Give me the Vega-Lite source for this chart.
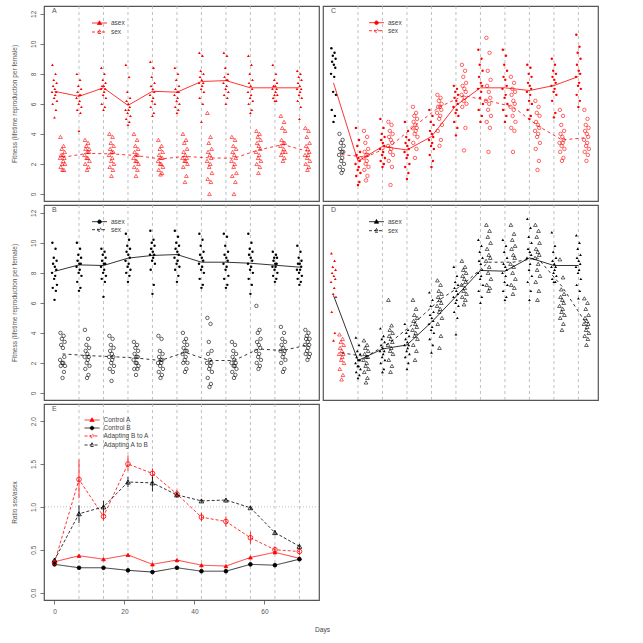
{
"$schema": "https://vega.github.io/schema/vega-lite/v6.json",
"background": "white",
"padding": {"left": 10, "top": 5, "right": 5, "bottom": 5},
"bounds": "flush",
"spacing": 4,
"columns": 2,
"resolve": {"scale": {"shape": "independent", "stroke": "independent", "fill": "independent", "strokeDash": "independent"}, "legend": {"shape": "independent", "stroke": "independent", "fill": "independent", "strokeDash": "independent"}},
"title": {"text": "Days", "orient": "bottom", "anchor": "middle", "frame": "bounds", "offset": 12, "dx": 18, "dy": 0, "fontSize": 6.6, "fontWeight": "normal", "color": "#444"},
"config": {
 "font": "Liberation Sans",
 "view": {"stroke": "#555", "strokeWidth": 1.2},
 "axis": {"grid": false, "domain": false, "tickSize": 4, "tickColor": "#555", "tickWidth": 0.8, "labelFontSize": 6.5, "labelColor": "#555", "labelPadding": 4, "titleFontSize": 6.5, "titleFontWeight": "normal", "titleColor": "#555", "titlePadding": 13, "labelFlush": false, "labelOverlap": false},
 "axisY": {"labelAngle": 270, "labelAlign": "center", "labelBaseline": "bottom"},
 "legend": {"padding": 0, "rowPadding": 1, "labelFontSize": 6.5, "labelColor": "#444", "labelOffset": 8, "symbolStrokeWidth": 0.8, "symbolSize": 36},
 "title": {"anchor": "start", "frame": "group", "offset": 0, "dx": 8, "dy": 12, "fontSize": 7, "fontWeight": "normal", "color": "#555"}
},
"datasets": {
 "days": [{"x":7},{"x":14},{"x":21},{"x":28},{"x":35},{"x":42},{"x":49},{"x":56},{"x":63},{"x":70}],
 "one": [{"y":1}],
 "Aa": [
  {"x":-0.6,"y":8.6},{"x":0.3,"y":8.0},{"x":-0.2,"y":7.6},{"x":0.6,"y":7.4},{"x":-0.4,"y":7.2},{"x":0.1,"y":7.0},{"x":0.5,"y":6.8},{"x":-0.7,"y":6.8},{"x":0.2,"y":6.6},{"x":-0.1,"y":6.4},{"x":0.7,"y":6.2},{"x":-0.5,"y":6.0},{"x":0.4,"y":5.6},{"x":0,"y":5.1},
  {"x":6.4,"y":8.0},{"x":7.3,"y":7.6},{"x":6.8,"y":7.2},{"x":7.6,"y":7.0},{"x":6.6,"y":6.8},{"x":7.1,"y":6.6},{"x":7.5,"y":6.6},{"x":6.3,"y":6.4},{"x":7.2,"y":6.2},{"x":6.9,"y":6.0},{"x":7.7,"y":5.8},{"x":6.5,"y":5.6},{"x":7.4,"y":5.4},{"x":7,"y":4.2},
  {"x":13.4,"y":8.4},{"x":14.3,"y":8.0},{"x":13.8,"y":7.6},{"x":14.6,"y":7.4},{"x":13.6,"y":7.2},{"x":14.1,"y":7.2},{"x":14.5,"y":7.0},{"x":13.3,"y":7.0},{"x":14.2,"y":6.8},{"x":13.9,"y":6.6},{"x":14.7,"y":6.4},{"x":13.5,"y":6.0},{"x":14.4,"y":5.8},{"x":14,"y":5.6},
  {"x":20.4,"y":8.6},{"x":21.3,"y":7.8},{"x":20.8,"y":6.8},{"x":21.6,"y":6.4},{"x":20.6,"y":6.2},{"x":21.1,"y":6.0},{"x":21.5,"y":5.8},{"x":20.3,"y":5.6},{"x":21.2,"y":5.6},{"x":20.9,"y":5.4},{"x":21.7,"y":5.2},{"x":20.5,"y":5.0},{"x":21.4,"y":4.8},{"x":21,"y":4.6},
  {"x":27.4,"y":8.8},{"x":28.3,"y":8.4},{"x":27.8,"y":7.8},{"x":28.6,"y":7.4},{"x":27.6,"y":7.2},{"x":28.1,"y":7.0},{"x":28.5,"y":6.8},{"x":27.3,"y":6.6},{"x":28.2,"y":6.4},{"x":27.9,"y":6.2},{"x":28.7,"y":6.0},{"x":27.5,"y":5.8},{"x":28.4,"y":5.4},{"x":28,"y":5.2},
  {"x":34.4,"y":8.4},{"x":35.3,"y":8.0},{"x":34.8,"y":7.6},{"x":35.6,"y":7.2},{"x":34.6,"y":7.0},{"x":35.1,"y":6.8},{"x":35.5,"y":6.8},{"x":34.3,"y":6.6},{"x":35.2,"y":6.4},{"x":34.9,"y":6.2},{"x":35.7,"y":6.0},{"x":34.5,"y":5.8},{"x":35.4,"y":5.6},{"x":35,"y":5.4},
  {"x":41.4,"y":9.4},{"x":42.3,"y":9.2},{"x":41.8,"y":8.2},{"x":42.6,"y":8.0},{"x":41.6,"y":7.8},{"x":42.1,"y":7.6},{"x":42.5,"y":7.4},{"x":41.3,"y":7.4},{"x":42.2,"y":7.2},{"x":41.9,"y":7.0},{"x":42.7,"y":6.8},{"x":41.5,"y":6.4},{"x":42.4,"y":6.0},{"x":42,"y":4.8},
  {"x":48.4,"y":9.4},{"x":49.3,"y":9.2},{"x":48.8,"y":8.4},{"x":49.6,"y":8.0},{"x":48.6,"y":7.8},{"x":49.1,"y":7.6},{"x":49.5,"y":7.6},{"x":48.3,"y":7.4},{"x":49.2,"y":7.2},{"x":48.9,"y":7.0},{"x":49.7,"y":6.8},{"x":48.5,"y":6.6},{"x":49.4,"y":6.4},{"x":49,"y":6.0},
  {"x":55.4,"y":9.2},{"x":56.3,"y":8.6},{"x":55.8,"y":8.0},{"x":56.6,"y":7.6},{"x":55.6,"y":7.4},{"x":56.1,"y":7.2},{"x":56.5,"y":7.0},{"x":55.3,"y":6.8},{"x":56.2,"y":6.6},{"x":55.9,"y":6.4},{"x":56.7,"y":6.2},{"x":55.5,"y":6.0},{"x":56.4,"y":5.6},{"x":56,"y":5.4},
  {"x":62.4,"y":8.6},{"x":63.3,"y":8.0},{"x":62.8,"y":7.6},{"x":63.6,"y":7.4},{"x":62.6,"y":7.2},{"x":63.1,"y":7.2},{"x":63.5,"y":7.0},{"x":62.3,"y":7.0},{"x":63.2,"y":6.8},{"x":62.9,"y":6.6},{"x":63.7,"y":6.6},{"x":62.5,"y":6.4},{"x":63.4,"y":6.2},{"x":63,"y":6.2},
  {"x":69.4,"y":8.2},{"x":70.3,"y":8.0},{"x":69.8,"y":7.8},{"x":70.6,"y":7.6},{"x":69.6,"y":7.4},{"x":70.1,"y":7.2},{"x":70.5,"y":7.0},{"x":69.3,"y":7.0},{"x":70.2,"y":6.8},{"x":69.9,"y":6.6},{"x":70.7,"y":6.4},{"x":69.5,"y":6.2},{"x":70.4,"y":5.8},{"x":70,"y":5.0}
 ],
 "As": [
  {"x":1.7,"y":3.8},{"x":2.6,"y":3.2},{"x":2.1,"y":3.0},{"x":2.9,"y":2.8},{"x":1.9,"y":2.6},{"x":2.4,"y":2.6},{"x":2.8,"y":2.4},{"x":1.6,"y":2.4},{"x":2.5,"y":2.2},{"x":2.2,"y":2.0},{"x":3.0,"y":2.0},{"x":1.8,"y":1.8},{"x":2.7,"y":1.6},{"x":2.3,"y":1.6},
  {"x":8.7,"y":3.6},{"x":9.6,"y":3.4},{"x":9.1,"y":3.2},{"x":9.9,"y":3.0},{"x":8.9,"y":3.0},{"x":9.4,"y":2.8},{"x":9.8,"y":2.8},{"x":8.6,"y":2.6},{"x":9.5,"y":2.4},{"x":9.2,"y":2.4},{"x":10.0,"y":2.2},{"x":8.8,"y":2.0},{"x":9.7,"y":1.8},{"x":9.3,"y":1.6},
  {"x":15.7,"y":4.0},{"x":16.6,"y":3.8},{"x":16.1,"y":3.4},{"x":16.9,"y":3.2},{"x":15.9,"y":3.0},{"x":16.4,"y":2.8},{"x":16.8,"y":2.8},{"x":15.6,"y":2.6},{"x":16.5,"y":2.4},{"x":16.2,"y":2.2},{"x":17.0,"y":2.0},{"x":15.8,"y":1.8},{"x":16.7,"y":1.6},{"x":16.3,"y":1.2},
  {"x":22.7,"y":4.0},{"x":23.6,"y":3.6},{"x":23.1,"y":3.2},{"x":23.9,"y":3.0},{"x":22.9,"y":2.8},{"x":23.4,"y":2.6},{"x":23.8,"y":2.6},{"x":22.6,"y":2.4},{"x":23.5,"y":2.2},{"x":23.2,"y":2.2},{"x":24.0,"y":2.0},{"x":22.8,"y":1.8},{"x":23.7,"y":1.6},{"x":23.3,"y":1.2},
  {"x":29.7,"y":3.6},{"x":30.6,"y":3.2},{"x":30.1,"y":3.0},{"x":30.9,"y":2.8},{"x":29.9,"y":2.6},{"x":30.4,"y":2.4},{"x":30.8,"y":2.4},{"x":29.6,"y":2.2},{"x":30.5,"y":2.0},{"x":30.2,"y":2.0},{"x":31.0,"y":1.8},{"x":29.8,"y":1.6},{"x":30.7,"y":1.4},{"x":30.3,"y":1.3},
  {"x":36.7,"y":4.0},{"x":37.6,"y":3.6},{"x":37.1,"y":3.4},{"x":37.9,"y":3.0},{"x":36.9,"y":2.8},{"x":37.4,"y":2.6},{"x":37.8,"y":2.4},{"x":36.6,"y":2.4},{"x":37.5,"y":2.2},{"x":37.2,"y":2.2},{"x":38.0,"y":2.0},{"x":36.8,"y":1.8},{"x":37.7,"y":1.2},{"x":37.3,"y":0.8},
  {"x":43.7,"y":5.4},{"x":44.6,"y":3.8},{"x":44.1,"y":3.4},{"x":44.9,"y":3.0},{"x":43.9,"y":2.8},{"x":44.4,"y":2.6},{"x":44.8,"y":2.4},{"x":43.6,"y":2.2},{"x":44.5,"y":2.0},{"x":44.2,"y":1.8},{"x":45.0,"y":1.4},{"x":43.8,"y":1.0},{"x":44.7,"y":0.8},{"x":44.3,"y":0.0},
  {"x":50.7,"y":3.8},{"x":51.6,"y":3.6},{"x":51.1,"y":3.2},{"x":51.9,"y":3.0},{"x":50.9,"y":2.8},{"x":51.4,"y":2.6},{"x":51.8,"y":2.4},{"x":50.6,"y":2.2},{"x":51.5,"y":2.0},{"x":51.2,"y":1.8},{"x":52.0,"y":1.4},{"x":50.8,"y":1.2},{"x":51.7,"y":0.8},{"x":51.3,"y":0.0},
  {"x":57.7,"y":4.2},{"x":58.6,"y":4.0},{"x":58.1,"y":3.8},{"x":58.9,"y":3.6},{"x":57.9,"y":3.4},{"x":58.4,"y":3.2},{"x":58.8,"y":3.0},{"x":57.6,"y":2.8},{"x":58.5,"y":2.6},{"x":58.2,"y":2.4},{"x":59.0,"y":2.2},{"x":57.8,"y":2.0},{"x":58.7,"y":1.8},{"x":58.3,"y":1.4},
  {"x":64.7,"y":5.2},{"x":65.6,"y":4.8},{"x":65.1,"y":4.4},{"x":65.9,"y":4.2},{"x":64.9,"y":3.6},{"x":65.4,"y":3.4},{"x":65.8,"y":3.4},{"x":64.6,"y":3.2},{"x":65.5,"y":3.0},{"x":65.2,"y":2.8},{"x":66.0,"y":2.8},{"x":64.8,"y":2.6},{"x":65.7,"y":2.4},{"x":65.3,"y":2.2},
  {"x":71.7,"y":4.4},{"x":72.6,"y":4.2},{"x":72.1,"y":3.8},{"x":72.9,"y":3.4},{"x":71.9,"y":3.2},{"x":72.4,"y":3.0},{"x":72.8,"y":2.8},{"x":71.6,"y":2.6},{"x":72.5,"y":2.6},{"x":72.2,"y":2.4},{"x":73.0,"y":2.2},{"x":71.8,"y":2.0},{"x":72.7,"y":1.8},{"x":72.3,"y":1.6}
 ],
 "Am": [
  {"g":"asex","x":0,"y":6.84},{"g":"asex","x":7,"y":6.5},{"g":"asex","x":14,"y":7.07},{"g":"asex","x":21,"y":5.9},{"g":"asex","x":28,"y":6.84},{"g":"asex","x":35,"y":6.78},{"g":"asex","x":42,"y":7.49},{"g":"asex","x":49,"y":7.55},{"g":"asex","x":56,"y":7.07},{"g":"asex","x":63,"y":7.07},{"g":"asex","x":70,"y":7.07},
  {"g":"sex","x":2.3,"y":2.44},{"g":"sex","x":9.3,"y":2.7},{"g":"sex","x":16.3,"y":2.67},{"g":"sex","x":23.3,"y":2.56},{"g":"sex","x":30.3,"y":2.33},{"g":"sex","x":37.3,"y":2.5},{"g":"sex","x":44.3,"y":2.4},{"g":"sex","x":51.3,"y":2.38},{"g":"sex","x":58.3,"y":2.93},{"g":"sex","x":65.3,"y":3.29},{"g":"sex","x":72.3,"y":2.84}
 ],
 "Ba": [
  {"x":-0.6,"y":10.0},{"x":0.3,"y":9.6},{"x":-0.2,"y":9.0},{"x":0.6,"y":8.8},{"x":-0.4,"y":8.6},{"x":0.1,"y":8.4},{"x":0.5,"y":8.2},{"x":-0.7,"y":8.0},{"x":0.2,"y":7.8},{"x":-0.1,"y":7.6},{"x":0.7,"y":7.2},{"x":-0.5,"y":7.0},{"x":0.4,"y":6.8},{"x":0,"y":6.2},
  {"x":6.4,"y":10.0},{"x":7.3,"y":9.6},{"x":6.8,"y":9.2},{"x":7.6,"y":9.0},{"x":6.6,"y":8.8},{"x":7.1,"y":8.6},{"x":7.5,"y":8.6},{"x":6.3,"y":8.4},{"x":7.2,"y":8.2},{"x":6.9,"y":8.0},{"x":7.7,"y":7.8},{"x":6.5,"y":7.4},{"x":7.4,"y":7.0},{"x":7,"y":6.8},
  {"x":13.4,"y":9.6},{"x":14.3,"y":9.4},{"x":13.8,"y":9.2},{"x":14.6,"y":9.0},{"x":13.6,"y":8.8},{"x":14.1,"y":8.6},{"x":14.5,"y":8.6},{"x":13.3,"y":8.4},{"x":14.2,"y":8.2},{"x":13.9,"y":8.0},{"x":14.7,"y":7.8},{"x":13.5,"y":7.6},{"x":14.4,"y":7.4},{"x":14,"y":6.4},
  {"x":20.4,"y":10.6},{"x":21.3,"y":10.2},{"x":20.8,"y":9.8},{"x":21.6,"y":9.6},{"x":20.6,"y":9.4},{"x":21.1,"y":9.2},{"x":21.5,"y":9.0},{"x":20.3,"y":8.8},{"x":21.2,"y":8.6},{"x":20.9,"y":8.4},{"x":21.7,"y":8.2},{"x":20.5,"y":8.0},{"x":21.4,"y":7.8},{"x":21,"y":7.4},
  {"x":27.4,"y":10.8},{"x":28.3,"y":10.2},{"x":27.8,"y":10.0},{"x":28.6,"y":9.8},{"x":27.6,"y":9.6},{"x":28.1,"y":9.4},{"x":28.5,"y":9.2},{"x":27.3,"y":9.2},{"x":28.2,"y":9.0},{"x":27.9,"y":8.8},{"x":28.7,"y":8.6},{"x":27.5,"y":8.2},{"x":28.4,"y":7.2},{"x":28,"y":6.6},
  {"x":34.4,"y":10.8},{"x":35.3,"y":10.4},{"x":34.8,"y":10.0},{"x":35.6,"y":9.8},{"x":34.6,"y":9.6},{"x":35.1,"y":9.4},{"x":35.5,"y":9.2},{"x":34.3,"y":9.0},{"x":35.2,"y":8.8},{"x":34.9,"y":8.6},{"x":35.7,"y":8.4},{"x":34.5,"y":8.2},{"x":35.4,"y":7.8},{"x":35,"y":7.4},
  {"x":41.4,"y":10.6},{"x":42.3,"y":10.2},{"x":41.8,"y":9.8},{"x":42.6,"y":9.4},{"x":41.6,"y":9.2},{"x":42.1,"y":9.0},{"x":42.5,"y":8.8},{"x":41.3,"y":8.6},{"x":42.2,"y":8.4},{"x":41.9,"y":8.2},{"x":42.7,"y":8.0},{"x":41.5,"y":7.6},{"x":42.4,"y":7.2},{"x":42,"y":7.0},
  {"x":48.4,"y":10.6},{"x":49.3,"y":10.4},{"x":48.8,"y":9.8},{"x":49.6,"y":9.4},{"x":48.6,"y":9.2},{"x":49.1,"y":9.0},{"x":49.5,"y":8.8},{"x":48.3,"y":8.6},{"x":49.2,"y":8.4},{"x":48.9,"y":8.2},{"x":49.7,"y":7.8},{"x":48.5,"y":7.6},{"x":49.4,"y":7.2},{"x":49,"y":7.0},
  {"x":55.4,"y":10.6},{"x":56.3,"y":10.0},{"x":55.8,"y":9.6},{"x":56.6,"y":9.4},{"x":55.6,"y":9.2},{"x":56.1,"y":9.0},{"x":56.5,"y":8.8},{"x":55.3,"y":8.6},{"x":56.2,"y":8.4},{"x":55.9,"y":8.2},{"x":56.7,"y":8.0},{"x":55.5,"y":7.6},{"x":56.4,"y":7.2},{"x":56,"y":6.6},
  {"x":62.4,"y":9.4},{"x":63.3,"y":9.2},{"x":62.8,"y":9.0},{"x":63.6,"y":9.0},{"x":62.6,"y":8.8},{"x":63.1,"y":8.6},{"x":63.5,"y":8.6},{"x":62.3,"y":8.4},{"x":63.2,"y":8.4},{"x":62.9,"y":8.2},{"x":63.7,"y":8.0},{"x":62.5,"y":7.8},{"x":63.4,"y":7.6},{"x":63,"y":7.4},
  {"x":69.4,"y":9.8},{"x":70.3,"y":9.4},{"x":69.8,"y":9.0},{"x":70.6,"y":8.8},{"x":69.6,"y":8.6},{"x":70.1,"y":8.6},{"x":70.5,"y":8.4},{"x":69.3,"y":8.2},{"x":70.2,"y":8.2},{"x":69.9,"y":8.0},{"x":70.7,"y":7.8},{"x":69.5,"y":7.6},{"x":70.4,"y":7.4},{"x":70,"y":7.2}
 ],
 "Bs": [
  {"x":1.7,"y":4.0},{"x":2.6,"y":3.8},{"x":2.1,"y":3.6},{"x":2.9,"y":3.4},{"x":1.9,"y":3.2},{"x":2.4,"y":3.0},{"x":2.8,"y":2.4},{"x":1.6,"y":2.2},{"x":2.5,"y":2.0},{"x":2.2,"y":2.0},{"x":3.0,"y":1.8},{"x":1.8,"y":1.8},{"x":2.7,"y":1.4},{"x":2.3,"y":1.0},
  {"x":8.7,"y":4.2},{"x":9.6,"y":3.6},{"x":9.1,"y":3.2},{"x":9.9,"y":3.0},{"x":8.9,"y":2.8},{"x":9.4,"y":2.6},{"x":9.8,"y":2.4},{"x":8.6,"y":2.4},{"x":9.5,"y":2.2},{"x":9.2,"y":2.0},{"x":10.0,"y":1.8},{"x":8.8,"y":1.6},{"x":9.7,"y":1.2},{"x":9.3,"y":1.0},
  {"x":15.7,"y":3.8},{"x":16.6,"y":3.6},{"x":16.1,"y":3.2},{"x":16.9,"y":3.0},{"x":15.9,"y":2.8},{"x":16.4,"y":2.6},{"x":16.8,"y":2.4},{"x":15.6,"y":2.4},{"x":16.5,"y":2.2},{"x":16.2,"y":2.0},{"x":17.0,"y":1.8},{"x":15.8,"y":1.6},{"x":16.7,"y":1.4},{"x":16.3,"y":0.8},
  {"x":22.7,"y":3.4},{"x":23.6,"y":3.2},{"x":23.1,"y":3.0},{"x":23.9,"y":2.8},{"x":22.9,"y":2.6},{"x":23.4,"y":2.4},{"x":23.8,"y":2.4},{"x":22.6,"y":2.2},{"x":23.5,"y":2.0},{"x":23.2,"y":2.0},{"x":24.0,"y":1.8},{"x":22.8,"y":1.6},{"x":23.7,"y":1.6},{"x":23.3,"y":1.2},
  {"x":29.7,"y":3.8},{"x":30.6,"y":3.6},{"x":30.1,"y":2.8},{"x":30.9,"y":2.6},{"x":29.9,"y":2.4},{"x":30.4,"y":2.2},{"x":30.8,"y":2.2},{"x":29.6,"y":2.0},{"x":30.5,"y":2.0},{"x":30.2,"y":1.8},{"x":31.0,"y":1.6},{"x":29.8,"y":1.4},{"x":30.7,"y":1.2},{"x":30.3,"y":1.0},
  {"x":36.7,"y":4.0},{"x":37.6,"y":3.6},{"x":37.1,"y":3.4},{"x":37.9,"y":3.2},{"x":36.9,"y":3.0},{"x":37.4,"y":2.8},{"x":37.8,"y":2.8},{"x":36.6,"y":2.6},{"x":37.5,"y":2.4},{"x":37.2,"y":2.2},{"x":38.0,"y":2.0},{"x":36.8,"y":2.0},{"x":37.7,"y":1.6},{"x":37.3,"y":1.4},
  {"x":43.7,"y":5.0},{"x":44.6,"y":4.6},{"x":44.1,"y":3.4},{"x":44.9,"y":2.8},{"x":43.9,"y":2.6},{"x":44.4,"y":2.2},{"x":44.8,"y":2.0},{"x":43.6,"y":2.0},{"x":44.5,"y":1.8},{"x":44.2,"y":1.6},{"x":45.0,"y":1.4},{"x":43.8,"y":1.0},{"x":44.7,"y":0.6},{"x":44.3,"y":0.4},
  {"x":50.7,"y":3.4},{"x":51.6,"y":3.2},{"x":51.1,"y":2.8},{"x":51.9,"y":2.6},{"x":50.9,"y":2.4},{"x":51.4,"y":2.2},{"x":51.8,"y":2.0},{"x":50.6,"y":2.0},{"x":51.5,"y":1.8},{"x":51.2,"y":1.8},{"x":52.0,"y":1.6},{"x":50.8,"y":1.4},{"x":51.7,"y":1.2},{"x":51.3,"y":1.0},
  {"x":57.7,"y":5.8},{"x":58.6,"y":4.2},{"x":58.1,"y":4.0},{"x":58.9,"y":3.6},{"x":57.9,"y":3.4},{"x":58.4,"y":3.2},{"x":58.8,"y":3.0},{"x":57.6,"y":2.8},{"x":58.5,"y":2.6},{"x":58.2,"y":2.4},{"x":59.0,"y":2.2},{"x":57.8,"y":2.0},{"x":58.7,"y":1.8},{"x":58.3,"y":1.6},
  {"x":64.7,"y":4.4},{"x":65.6,"y":4.0},{"x":65.1,"y":3.6},{"x":65.9,"y":3.4},{"x":64.9,"y":3.2},{"x":65.4,"y":3.0},{"x":65.8,"y":2.8},{"x":64.6,"y":2.8},{"x":65.5,"y":2.6},{"x":65.2,"y":2.4},{"x":66.0,"y":2.2},{"x":64.8,"y":2.0},{"x":65.7,"y":1.6},{"x":65.3,"y":1.4},
  {"x":71.7,"y":4.2},{"x":72.6,"y":4.0},{"x":72.1,"y":3.8},{"x":72.9,"y":3.6},{"x":71.9,"y":3.6},{"x":72.4,"y":3.4},{"x":72.8,"y":3.2},{"x":71.6,"y":3.2},{"x":72.5,"y":3.0},{"x":72.2,"y":2.8},{"x":73.0,"y":2.6},{"x":71.8,"y":2.6},{"x":72.7,"y":2.4},{"x":72.3,"y":2.2}
 ],
 "Bm": [
  {"g":"asex","x":0,"y":8.1},{"g":"asex","x":7,"y":8.53},{"g":"asex","x":14,"y":8.49},{"g":"asex","x":21,"y":8.98},{"g":"asex","x":28,"y":9.16},{"g":"asex","x":35,"y":9.22},{"g":"asex","x":42,"y":8.71},{"g":"asex","x":49,"y":8.71},{"g":"asex","x":56,"y":8.64},{"g":"asex","x":63,"y":8.51},{"g":"asex","x":70,"y":8.38},
  {"g":"sex","x":2.3,"y":2.6},{"g":"sex","x":9.3,"y":2.49},{"g":"sex","x":16.3,"y":2.42},{"g":"sex","x":23.3,"y":2.33},{"g":"sex","x":30.3,"y":2.16},{"g":"sex","x":37.3,"y":2.71},{"g":"sex","x":44.3,"y":2.16},{"g":"sex","x":51.3,"y":2.16},{"g":"sex","x":58.3,"y":2.93},{"g":"sex","x":65.3,"y":2.82},{"g":"sex","x":72.3,"y":3.2}
 ],
 "Ca": [
  {"x":-0.6,"y":9.7},{"x":0.3,"y":9.4},{"x":-0.2,"y":9.2},{"x":0.6,"y":9.0},{"x":-0.4,"y":8.8},{"x":0.1,"y":8.6},{"x":0.5,"y":8.4},{"x":-0.7,"y":8.0},{"x":0.2,"y":7.8},{"x":-0.1,"y":6.8},{"x":0.7,"y":6.6},{"x":-0.5,"y":5.6},{"x":0.4,"y":5.2},{"x":0,"y":4.8},
  {"x":6.4,"y":4.4},{"x":7.3,"y":3.6},{"x":6.8,"y":3.2},{"x":7.6,"y":2.8},{"x":6.6,"y":2.6},{"x":7.1,"y":2.4},{"x":7.5,"y":2.2},{"x":6.3,"y":2.0},{"x":7.2,"y":1.8},{"x":6.9,"y":1.6},{"x":7.7,"y":1.4},{"x":6.5,"y":1.2},{"x":7.4,"y":0.8},{"x":7,"y":0.6},
  {"x":13.4,"y":5.0},{"x":14.3,"y":4.4},{"x":13.8,"y":4.0},{"x":14.6,"y":3.8},{"x":13.6,"y":3.6},{"x":14.1,"y":3.4},{"x":14.5,"y":3.2},{"x":13.3,"y":3.0},{"x":14.2,"y":2.8},{"x":13.9,"y":2.6},{"x":14.7,"y":2.4},{"x":13.5,"y":2.2},{"x":14.4,"y":2.0},{"x":14,"y":1.8},
  {"x":20.4,"y":4.8},{"x":21.3,"y":4.2},{"x":20.8,"y":3.8},{"x":21.6,"y":3.6},{"x":20.6,"y":3.4},{"x":21.1,"y":3.2},{"x":21.5,"y":3.0},{"x":20.3,"y":2.8},{"x":21.2,"y":2.6},{"x":20.9,"y":2.4},{"x":21.7,"y":2.0},{"x":20.5,"y":1.8},{"x":21.4,"y":1.4},{"x":21,"y":1.0},
  {"x":27.4,"y":5.6},{"x":28.3,"y":5.2},{"x":27.8,"y":4.8},{"x":28.6,"y":4.6},{"x":27.6,"y":4.2},{"x":28.1,"y":4.0},{"x":28.5,"y":3.8},{"x":27.3,"y":3.6},{"x":28.2,"y":3.4},{"x":27.9,"y":3.2},{"x":28.7,"y":3.0},{"x":27.5,"y":2.6},{"x":28.4,"y":2.2},{"x":28,"y":1.8},
  {"x":34.4,"y":7.2},{"x":35.3,"y":7.0},{"x":34.8,"y":6.8},{"x":35.6,"y":6.6},{"x":34.6,"y":6.4},{"x":35.1,"y":6.2},{"x":35.5,"y":6.0},{"x":34.3,"y":5.8},{"x":35.2,"y":5.6},{"x":34.9,"y":5.4},{"x":35.7,"y":5.2},{"x":34.5,"y":4.8},{"x":35.4,"y":4.4},{"x":35,"y":3.9},
  {"x":41.4,"y":9.6},{"x":42.3,"y":9.0},{"x":41.8,"y":8.6},{"x":42.6,"y":8.2},{"x":41.6,"y":7.8},{"x":42.1,"y":7.4},{"x":42.5,"y":7.2},{"x":41.3,"y":7.0},{"x":42.2,"y":6.8},{"x":41.9,"y":6.4},{"x":42.7,"y":6.0},{"x":41.5,"y":5.6},{"x":42.4,"y":5.2},{"x":42,"y":4.8},
  {"x":48.4,"y":9.6},{"x":49.3,"y":9.2},{"x":48.8,"y":8.6},{"x":49.6,"y":8.2},{"x":48.6,"y":7.8},{"x":49.1,"y":7.6},{"x":49.5,"y":7.2},{"x":48.3,"y":7.0},{"x":49.2,"y":6.6},{"x":48.9,"y":6.4},{"x":49.7,"y":6.0},{"x":48.5,"y":5.6},{"x":49.4,"y":5.2},{"x":49,"y":4.8},
  {"x":55.4,"y":8.6},{"x":56.3,"y":8.4},{"x":55.8,"y":8.0},{"x":56.6,"y":7.8},{"x":55.6,"y":7.4},{"x":56.1,"y":7.2},{"x":56.5,"y":7.0},{"x":55.3,"y":6.8},{"x":56.2,"y":6.6},{"x":55.9,"y":6.2},{"x":56.7,"y":6.0},{"x":55.5,"y":5.6},{"x":56.4,"y":5.2},{"x":56,"y":5.0},
  {"x":62.4,"y":9.0},{"x":63.3,"y":8.6},{"x":62.8,"y":8.2},{"x":63.6,"y":8.0},{"x":62.6,"y":7.8},{"x":63.1,"y":7.6},{"x":63.5,"y":7.4},{"x":62.3,"y":7.2},{"x":63.2,"y":7.0},{"x":62.9,"y":6.8},{"x":63.7,"y":6.6},{"x":62.5,"y":6.2},{"x":63.4,"y":5.4},{"x":63,"y":5.1},
  {"x":69.4,"y":10.6},{"x":70.3,"y":9.8},{"x":69.8,"y":9.4},{"x":70.6,"y":9.0},{"x":69.6,"y":8.6},{"x":70.1,"y":8.2},{"x":70.5,"y":8.0},{"x":69.3,"y":7.8},{"x":70.2,"y":7.4},{"x":69.9,"y":7.2},{"x":70.7,"y":7.0},{"x":69.5,"y":6.6},{"x":70.4,"y":6.2},{"x":70,"y":5.8}
 ],
 "Cs": [
  {"x":1.7,"y":4.0},{"x":2.6,"y":3.6},{"x":2.1,"y":3.4},{"x":2.9,"y":3.2},{"x":1.9,"y":3.0},{"x":2.4,"y":2.8},{"x":2.8,"y":2.8},{"x":1.6,"y":2.6},{"x":2.5,"y":2.4},{"x":2.2,"y":2.2},{"x":3.0,"y":2.0},{"x":1.8,"y":1.8},{"x":2.7,"y":1.6},{"x":2.3,"y":1.4},
  {"x":8.7,"y":4.2},{"x":9.6,"y":3.8},{"x":9.1,"y":3.4},{"x":9.9,"y":3.0},{"x":8.9,"y":2.8},{"x":9.4,"y":2.6},{"x":9.8,"y":2.6},{"x":8.6,"y":2.4},{"x":9.5,"y":2.2},{"x":9.2,"y":2.0},{"x":10.0,"y":1.8},{"x":8.8,"y":1.6},{"x":9.7,"y":1.2},{"x":9.3,"y":0.9},
  {"x":15.7,"y":4.8},{"x":16.6,"y":4.6},{"x":16.1,"y":4.2},{"x":16.9,"y":4.0},{"x":15.9,"y":3.8},{"x":16.4,"y":3.6},{"x":16.8,"y":3.4},{"x":15.6,"y":3.2},{"x":16.5,"y":3.0},{"x":16.2,"y":2.8},{"x":17.0,"y":2.6},{"x":15.8,"y":2.2},{"x":16.7,"y":1.8},{"x":16.3,"y":0.6},
  {"x":22.7,"y":5.8},{"x":23.6,"y":5.4},{"x":23.1,"y":5.2},{"x":23.9,"y":5.0},{"x":22.9,"y":4.8},{"x":23.4,"y":4.6},{"x":23.8,"y":4.4},{"x":22.6,"y":4.4},{"x":23.5,"y":4.2},{"x":23.2,"y":4.0},{"x":24.0,"y":3.8},{"x":22.8,"y":3.4},{"x":23.7,"y":3.0},{"x":23.3,"y":2.4},
  {"x":29.7,"y":6.6},{"x":30.6,"y":6.4},{"x":30.1,"y":6.2},{"x":30.9,"y":6.0},{"x":29.9,"y":5.8},{"x":30.4,"y":5.8},{"x":30.8,"y":5.6},{"x":29.6,"y":5.4},{"x":30.5,"y":5.2},{"x":30.2,"y":5.0},{"x":31.0,"y":4.6},{"x":29.8,"y":4.2},{"x":30.7,"y":3.6},{"x":30.3,"y":3.2},
  {"x":36.7,"y":8.6},{"x":37.6,"y":8.2},{"x":37.1,"y":7.8},{"x":37.9,"y":7.4},{"x":36.9,"y":7.2},{"x":37.4,"y":7.0},{"x":37.8,"y":6.8},{"x":36.6,"y":6.6},{"x":37.5,"y":6.4},{"x":37.2,"y":6.2},{"x":38.0,"y":6.0},{"x":36.8,"y":5.8},{"x":37.7,"y":4.4},{"x":37.3,"y":2.9},
  {"x":43.7,"y":10.4},{"x":44.6,"y":9.4},{"x":44.1,"y":8.2},{"x":44.9,"y":7.6},{"x":43.9,"y":7.2},{"x":44.4,"y":6.8},{"x":44.8,"y":6.4},{"x":43.6,"y":6.2},{"x":44.5,"y":6.0},{"x":44.2,"y":5.6},{"x":45.0,"y":5.2},{"x":43.8,"y":4.8},{"x":44.7,"y":4.4},{"x":44.3,"y":2.8},
  {"x":50.7,"y":7.8},{"x":51.6,"y":7.4},{"x":51.1,"y":7.0},{"x":51.9,"y":6.8},{"x":50.9,"y":6.6},{"x":51.4,"y":6.2},{"x":51.8,"y":6.0},{"x":50.6,"y":5.8},{"x":51.5,"y":5.6},{"x":51.2,"y":5.2},{"x":52.0,"y":4.8},{"x":50.8,"y":4.4},{"x":51.7,"y":4.2},{"x":51.3,"y":2.8},
  {"x":57.7,"y":6.2},{"x":58.6,"y":5.8},{"x":58.1,"y":5.4},{"x":58.9,"y":5.2},{"x":57.9,"y":4.8},{"x":58.4,"y":4.6},{"x":58.8,"y":4.4},{"x":57.6,"y":4.2},{"x":58.5,"y":4.0},{"x":58.2,"y":3.8},{"x":59.0,"y":3.4},{"x":57.8,"y":3.0},{"x":58.7,"y":2.2},{"x":58.3,"y":1.6},
  {"x":64.7,"y":5.6},{"x":65.6,"y":5.2},{"x":65.1,"y":4.6},{"x":65.9,"y":4.2},{"x":64.9,"y":4.0},{"x":65.4,"y":3.8},{"x":65.8,"y":3.6},{"x":64.6,"y":3.4},{"x":65.5,"y":3.4},{"x":65.2,"y":3.2},{"x":66.0,"y":3.0},{"x":64.8,"y":2.8},{"x":65.7,"y":2.4},{"x":65.3,"y":2.2},
  {"x":71.7,"y":5.6},{"x":72.6,"y":5.0},{"x":72.1,"y":4.6},{"x":72.9,"y":4.4},{"x":71.9,"y":4.2},{"x":72.4,"y":4.0},{"x":72.8,"y":3.8},{"x":71.6,"y":3.6},{"x":72.5,"y":3.4},{"x":72.2,"y":3.2},{"x":73.0,"y":3.0},{"x":71.8,"y":2.8},{"x":72.7,"y":2.6},{"x":72.3,"y":2.2}
 ],
 "Cm": [
  {"g":"asex","x":0,"y":7.4},{"g":"asex","x":7,"y":2.18},{"g":"asex","x":14,"y":3.16},{"g":"asex","x":21,"y":2.93},{"g":"asex","x":28,"y":3.82},{"g":"asex","x":35,"y":5.89},{"g":"asex","x":42,"y":7.07},{"g":"asex","x":49,"y":7.07},{"g":"asex","x":56,"y":6.89},{"g":"asex","x":63,"y":7.22},{"g":"asex","x":70,"y":7.82},
  {"g":"sex","x":2.3,"y":2.62},{"g":"sex","x":9.3,"y":2.45},{"g":"sex","x":16.3,"y":3.2},{"g":"sex","x":23.3,"y":4.55},{"g":"sex","x":30.3,"y":5.8},{"g":"sex","x":37.3,"y":6.55},{"g":"sex","x":44.3,"y":6.2},{"g":"sex","x":51.3,"y":5.8},{"g":"sex","x":58.3,"y":4.55},{"g":"sex","x":65.3,"y":3.6},{"g":"sex","x":72.3,"y":3.75}
 ],
 "Da": [
  {"x":-0.6,"y":9.3},{"x":0.3,"y":8.8},{"x":-0.2,"y":8.4},{"x":0.6,"y":8.2},{"x":-0.4,"y":8.0},{"x":0.1,"y":7.8},{"x":0.5,"y":7.6},{"x":-0.7,"y":7.4},{"x":0.2,"y":7.0},{"x":-0.1,"y":6.6},{"x":0.7,"y":6.4},{"x":-0.5,"y":5.4},{"x":0.4,"y":4.0},{"x":0,"y":3.5},
  {"x":6.4,"y":3.7},{"x":7.3,"y":3.2},{"x":6.8,"y":2.8},{"x":7.6,"y":2.6},{"x":6.6,"y":2.4},{"x":7.1,"y":2.2},{"x":7.5,"y":2.2},{"x":6.3,"y":2.0},{"x":7.2,"y":1.8},{"x":6.9,"y":1.8},{"x":7.7,"y":1.6},{"x":6.5,"y":1.4},{"x":7.4,"y":1.2},{"x":7,"y":1.0},
  {"x":13.4,"y":4.3},{"x":14.3,"y":3.8},{"x":13.8,"y":3.6},{"x":14.6,"y":3.4},{"x":13.6,"y":3.2},{"x":14.1,"y":3.0},{"x":14.5,"y":2.8},{"x":13.3,"y":2.8},{"x":14.2,"y":2.6},{"x":13.9,"y":2.4},{"x":14.7,"y":2.2},{"x":13.5,"y":2.0},{"x":14.4,"y":1.6},{"x":14,"y":1.4},
  {"x":20.4,"y":4.6},{"x":21.3,"y":4.2},{"x":20.8,"y":4.0},{"x":21.6,"y":3.8},{"x":20.6,"y":3.6},{"x":21.1,"y":3.4},{"x":21.5,"y":3.2},{"x":20.3,"y":3.2},{"x":21.2,"y":3.0},{"x":20.9,"y":2.8},{"x":21.7,"y":2.6},{"x":20.5,"y":2.4},{"x":21.4,"y":2.0},{"x":21,"y":1.6},
  {"x":27.4,"y":6.7},{"x":28.3,"y":6.2},{"x":27.8,"y":5.8},{"x":28.6,"y":5.4},{"x":27.6,"y":5.2},{"x":28.1,"y":5.0},{"x":28.5,"y":4.8},{"x":27.3,"y":4.6},{"x":28.2,"y":4.4},{"x":27.9,"y":4.2},{"x":28.7,"y":4.0},{"x":27.5,"y":3.6},{"x":28.4,"y":3.2},{"x":28,"y":2.7},
  {"x":34.4,"y":8.4},{"x":35.3,"y":7.8},{"x":34.8,"y":7.4},{"x":35.6,"y":7.2},{"x":34.6,"y":7.0},{"x":35.1,"y":6.8},{"x":35.5,"y":6.6},{"x":34.3,"y":6.4},{"x":35.2,"y":6.2},{"x":34.9,"y":6.0},{"x":35.7,"y":5.8},{"x":34.5,"y":5.4},{"x":35.4,"y":5.0},{"x":35,"y":3.9},
  {"x":41.4,"y":10.2},{"x":42.3,"y":9.8},{"x":41.8,"y":9.4},{"x":42.6,"y":9.0},{"x":41.6,"y":8.8},{"x":42.1,"y":8.6},{"x":42.5,"y":8.2},{"x":41.3,"y":8.0},{"x":42.2,"y":7.8},{"x":41.9,"y":7.6},{"x":42.7,"y":7.2},{"x":41.5,"y":6.8},{"x":42.4,"y":6.4},{"x":42,"y":6.0},
  {"x":48.4,"y":10.2},{"x":49.3,"y":9.8},{"x":48.8,"y":9.4},{"x":49.6,"y":9.0},{"x":48.6,"y":8.6},{"x":49.1,"y":8.4},{"x":49.5,"y":8.2},{"x":48.3,"y":8.0},{"x":49.2,"y":7.8},{"x":48.9,"y":7.4},{"x":49.7,"y":7.2},{"x":48.5,"y":6.8},{"x":49.4,"y":6.4},{"x":49,"y":6.2},
  {"x":55.4,"y":11.6},{"x":56.3,"y":11.0},{"x":55.8,"y":10.4},{"x":56.6,"y":10.0},{"x":55.6,"y":9.6},{"x":56.1,"y":9.4},{"x":56.5,"y":9.2},{"x":55.3,"y":9.0},{"x":56.2,"y":8.6},{"x":55.9,"y":8.2},{"x":56.7,"y":7.8},{"x":55.5,"y":7.4},{"x":56.4,"y":6.8},{"x":56,"y":6.2},
  {"x":62.4,"y":10.7},{"x":63.3,"y":9.8},{"x":62.8,"y":9.4},{"x":63.6,"y":9.0},{"x":62.6,"y":8.8},{"x":63.1,"y":8.6},{"x":63.5,"y":8.4},{"x":62.3,"y":8.4},{"x":63.2,"y":8.2},{"x":62.9,"y":8.0},{"x":63.7,"y":7.8},{"x":62.5,"y":7.6},{"x":63.4,"y":7.4},{"x":63,"y":7.4},
  {"x":69.4,"y":10.5},{"x":70.3,"y":10.0},{"x":69.8,"y":9.6},{"x":70.6,"y":9.2},{"x":69.6,"y":9.0},{"x":70.1,"y":8.8},{"x":70.5,"y":8.6},{"x":69.3,"y":8.4},{"x":70.2,"y":8.2},{"x":69.9,"y":8.0},{"x":70.7,"y":7.6},{"x":69.5,"y":7.2},{"x":70.4,"y":6.8},{"x":70,"y":6.3}
 ],
 "Ds": [
  {"x":1.7,"y":3.9},{"x":2.6,"y":3.6},{"x":2.1,"y":3.4},{"x":2.9,"y":3.2},{"x":1.9,"y":3.0},{"x":2.4,"y":2.8},{"x":2.8,"y":2.6},{"x":1.6,"y":2.6},{"x":2.5,"y":2.4},{"x":2.2,"y":2.2},{"x":3.0,"y":2.0},{"x":1.8,"y":1.6},{"x":2.7,"y":1.2},{"x":2.3,"y":0.9},
  {"x":8.7,"y":3.5},{"x":9.6,"y":3.2},{"x":9.1,"y":3.0},{"x":9.9,"y":2.8},{"x":8.9,"y":2.6},{"x":9.4,"y":2.4},{"x":9.8,"y":2.4},{"x":8.6,"y":2.2},{"x":9.5,"y":2.0},{"x":9.2,"y":1.8},{"x":10.0,"y":1.6},{"x":8.8,"y":1.4},{"x":9.7,"y":1.0},{"x":9.3,"y":0.7},
  {"x":15.7,"y":6.2},{"x":16.6,"y":4.5},{"x":16.1,"y":4.2},{"x":16.9,"y":4.0},{"x":15.9,"y":3.8},{"x":16.4,"y":3.6},{"x":16.8,"y":3.4},{"x":15.6,"y":3.2},{"x":16.5,"y":3.0},{"x":16.2,"y":2.8},{"x":17.0,"y":2.6},{"x":15.8,"y":2.2},{"x":16.7,"y":1.8},{"x":16.3,"y":1.4},
  {"x":22.7,"y":6.2},{"x":23.6,"y":5.6},{"x":23.1,"y":5.2},{"x":23.9,"y":5.0},{"x":22.9,"y":4.8},{"x":23.4,"y":4.6},{"x":23.8,"y":4.4},{"x":22.6,"y":4.2},{"x":23.5,"y":4.0},{"x":23.2,"y":3.8},{"x":24.0,"y":3.6},{"x":22.8,"y":3.2},{"x":23.7,"y":2.8},{"x":23.3,"y":2.2},
  {"x":29.7,"y":7.5},{"x":30.6,"y":7.2},{"x":30.1,"y":6.8},{"x":30.9,"y":6.6},{"x":29.9,"y":6.4},{"x":30.4,"y":6.2},{"x":30.8,"y":6.0},{"x":29.6,"y":5.8},{"x":30.5,"y":5.6},{"x":30.2,"y":5.4},{"x":31.0,"y":5.0},{"x":29.8,"y":4.6},{"x":30.7,"y":3.8},{"x":30.3,"y":3.0},
  {"x":36.7,"y":8.8},{"x":37.6,"y":8.4},{"x":37.1,"y":8.2},{"x":37.9,"y":8.0},{"x":36.9,"y":7.8},{"x":37.4,"y":7.6},{"x":37.8,"y":7.4},{"x":36.6,"y":7.2},{"x":37.5,"y":7.0},{"x":37.2,"y":6.8},{"x":38.0,"y":6.6},{"x":36.8,"y":6.4},{"x":37.7,"y":6.2},{"x":37.3,"y":5.9},
  {"x":43.7,"y":11.2},{"x":44.6,"y":10.8},{"x":44.1,"y":10.4},{"x":44.9,"y":10.0},{"x":43.9,"y":9.6},{"x":44.4,"y":9.2},{"x":44.8,"y":9.0},{"x":43.6,"y":8.8},{"x":44.5,"y":8.4},{"x":44.2,"y":8.0},{"x":45.0,"y":7.6},{"x":43.8,"y":7.2},{"x":44.7,"y":7.0},{"x":44.3,"y":6.8},
  {"x":50.7,"y":11.2},{"x":51.6,"y":10.6},{"x":51.1,"y":10.2},{"x":51.9,"y":9.8},{"x":50.9,"y":9.6},{"x":51.4,"y":9.2},{"x":51.8,"y":9.0},{"x":50.6,"y":8.6},{"x":51.5,"y":8.4},{"x":51.2,"y":8.0},{"x":52.0,"y":7.6},{"x":50.8,"y":7.2},{"x":51.7,"y":7.0},{"x":51.3,"y":6.6},
  {"x":57.7,"y":11.2},{"x":58.6,"y":10.8},{"x":58.1,"y":10.4},{"x":58.9,"y":10.0},{"x":57.9,"y":9.6},{"x":58.4,"y":9.4},{"x":58.8,"y":9.2},{"x":57.6,"y":9.0},{"x":58.5,"y":8.6},{"x":58.2,"y":8.2},{"x":59.0,"y":7.8},{"x":57.8,"y":7.4},{"x":58.7,"y":6.8},{"x":58.3,"y":6.2},
  {"x":64.7,"y":8.9},{"x":65.6,"y":7.7},{"x":65.1,"y":6.9},{"x":65.9,"y":6.6},{"x":64.9,"y":6.4},{"x":65.4,"y":6.2},{"x":65.8,"y":6.0},{"x":64.6,"y":5.8},{"x":65.5,"y":5.6},{"x":65.2,"y":5.4},{"x":66.0,"y":5.2},{"x":64.8,"y":5.0},{"x":65.7,"y":4.6},{"x":65.3,"y":4.2},
  {"x":71.7,"y":6.3},{"x":72.6,"y":6.0},{"x":72.1,"y":5.6},{"x":72.9,"y":5.2},{"x":71.9,"y":5.0},{"x":72.4,"y":4.8},{"x":72.8,"y":4.6},{"x":71.6,"y":4.6},{"x":72.5,"y":4.4},{"x":72.2,"y":4.2},{"x":73.0,"y":4.0},{"x":71.8,"y":3.8},{"x":72.7,"y":3.6},{"x":72.3,"y":3.2}
 ],
 "Dm": [
  {"g":"asex","x":0,"y":6.5},{"g":"asex","x":7,"y":2.16},{"g":"asex","x":14,"y":2.93},{"g":"asex","x":21,"y":3.2},{"g":"asex","x":28,"y":4.71},{"g":"asex","x":35,"y":6.42},{"g":"asex","x":42,"y":8.16},{"g":"asex","x":49,"y":8.11},{"g":"asex","x":56,"y":9.0},{"g":"asex","x":63,"y":8.49},{"g":"asex","x":70,"y":8.49},
  {"g":"sex","x":2.3,"y":2.67},{"g":"sex","x":9.3,"y":2.42},{"g":"sex","x":16.3,"y":3.38},{"g":"sex","x":23.3,"y":4.7},{"g":"sex","x":30.3,"y":6.2},{"g":"sex","x":37.3,"y":7.27},{"g":"sex","x":44.3,"y":8.71},{"g":"sex","x":51.3,"y":8.71},{"g":"sex","x":58.3,"y":9.0},{"g":"sex","x":65.3,"y":7.1},{"g":"sex","x":72.3,"y":4.6}
 ],
 "E": [
  {"g":"Control A","x":0,"y":0.36},{"g":"Control A","x":7,"y":0.43},{"g":"Control A","x":14,"y":0.39},{"g":"Control A","x":21,"y":0.44},{"g":"Control A","x":28,"y":0.33},{"g":"Control A","x":35,"y":0.38},{"g":"Control A","x":42,"y":0.32},{"g":"Control A","x":49,"y":0.31},{"g":"Control A","x":56,"y":0.41},{"g":"Control A","x":63,"y":0.47},{"g":"Control A","x":70,"y":0.40},
  {"g":"Control B","x":0,"y":0.33},{"g":"Control B","x":7,"y":0.29},{"g":"Control B","x":14,"y":0.29},{"g":"Control B","x":21,"y":0.26},{"g":"Control B","x":28,"y":0.24},{"g":"Control B","x":35,"y":0.29},{"g":"Control B","x":42,"y":0.25},{"g":"Control B","x":49,"y":0.25},{"g":"Control B","x":56,"y":0.33},{"g":"Control B","x":63,"y":0.32},{"g":"Control B","x":70,"y":0.39},
  {"g":"Adapting B to A","x":0,"y":0.35,"lo":0.33,"hi":0.37},{"g":"Adapting B to A","x":7,"y":1.32,"lo":1.10,"hi":1.55},{"g":"Adapting B to A","x":14,"y":0.89,"lo":0.84,"hi":0.94},{"g":"Adapting B to A","x":21,"y":1.50,"lo":1.42,"hi":1.60},{"g":"Adapting B to A","x":28,"y":1.39,"lo":1.32,"hi":1.45},{"g":"Adapting B to A","x":35,"y":1.15,"lo":1.11,"hi":1.20},{"g":"Adapting B to A","x":42,"y":0.88,"lo":0.83,"hi":0.93},{"g":"Adapting B to A","x":49,"y":0.83,"lo":0.77,"hi":0.89},{"g":"Adapting B to A","x":56,"y":0.64,"lo":0.57,"hi":0.71},{"g":"Adapting B to A","x":63,"y":0.50,"lo":0.46,"hi":0.54},{"g":"Adapting B to A","x":70,"y":0.48,"lo":0.44,"hi":0.52},
  {"g":"Adapting A to B","x":0,"y":0.38,"lo":0.36,"hi":0.40},{"g":"Adapting A to B","x":7,"y":0.92,"lo":0.81,"hi":1.02},{"g":"Adapting A to B","x":14,"y":1.00,"lo":0.94,"hi":1.07},{"g":"Adapting A to B","x":21,"y":1.29,"lo":1.23,"hi":1.35},{"g":"Adapting A to B","x":28,"y":1.28,"lo":1.18,"hi":1.35},{"g":"Adapting A to B","x":35,"y":1.14,"lo":1.11,"hi":1.17},{"g":"Adapting A to B","x":42,"y":1.07,"lo":1.05,"hi":1.09},{"g":"Adapting A to B","x":49,"y":1.08,"lo":1.06,"hi":1.10},{"g":"Adapting A to B","x":56,"y":0.99,"lo":0.97,"hi":1.01},{"g":"Adapting A to B","x":63,"y":0.70,"lo":0.67,"hi":0.73},{"g":"Adapting A to B","x":70,"y":0.54,"lo":0.52,"hi":0.56}
 ]
},
"concat": [
  {"width": 275, "height": 195, "title": {"text": "A"},
   "layer": [
    {"data": {"name": "days"}, "mark": {"type": "rule", "color": "#b0b0b0", "strokeDash": [3, 3], "strokeWidth": 0.8}, "encoding": {"x": {"field": "x", "type": "quantitative", "scale": {"domain": [-3, 75.6], "nice": false, "zero": false}, "axis": null}}},
    {"data": {"name": "Aa"}, "mark": {"type": "point", "shape": "triangle-up", "filled": true, "size": 8, "opacity": 1, "color": "red"}, "encoding": {"x": {"field": "x", "type": "quantitative", "scale": {"domain": [-3, 75.6], "nice": false, "zero": false}, "axis": null}, "y": {"field": "y", "type": "quantitative", "scale": {"domain": [-0.47, 12.52], "nice": false, "zero": false}, "axis": {"values": [0, 2, 4, 6, 8, 10, 12], "title": "Fitness (lifetime reproduction per female)"}}}},
    {"data": {"name": "As"}, "mark": {"type": "point", "shape": "triangle-up", "filled": false, "size": 14, "strokeWidth": 0.6, "opacity": 1, "color": "red"}, "encoding": {"x": {"field": "x", "type": "quantitative", "scale": {"domain": [-3, 75.6], "nice": false, "zero": false}, "axis": null}, "y": {"field": "y", "type": "quantitative", "scale": {"domain": [-0.47, 12.52], "nice": false, "zero": false}, "axis": {"values": [0, 2, 4, 6, 8, 10, 12], "title": "Fitness (lifetime reproduction per female)"}}}},
    {"data": {"name": "Am"}, "transform": [{"filter": "datum.g == 'asex'"}], "mark": {"type": "line", "color": "red", "strokeWidth": 0.8}, "encoding": {"x": {"field": "x", "type": "quantitative", "scale": {"domain": [-3, 75.6], "nice": false, "zero": false}, "axis": null}, "y": {"field": "y", "type": "quantitative", "scale": {"domain": [-0.47, 12.52], "nice": false, "zero": false}, "axis": {"values": [0, 2, 4, 6, 8, 10, 12], "title": "Fitness (lifetime reproduction per female)"}}}},
    {"data": {"name": "Am"}, "transform": [{"filter": "datum.g == 'sex'"}], "mark": {"type": "line", "color": "red", "strokeWidth": 0.8, "strokeDash": [3, 3]}, "encoding": {"x": {"field": "x", "type": "quantitative", "scale": {"domain": [-3, 75.6], "nice": false, "zero": false}, "axis": null}, "y": {"field": "y", "type": "quantitative", "scale": {"domain": [-0.47, 12.52], "nice": false, "zero": false}, "axis": {"values": [0, 2, 4, 6, 8, 10, 12], "title": "Fitness (lifetime reproduction per female)"}}}},
    {"data": {"name": "Am"}, "transform": [{"filter": "false"}], "mark": {"type": "point", "opacity": 1},
     "encoding": {
      "shape": {"field": "g", "type": "nominal", "scale": {"domain": ["asex", "sex"], "range": ["M-2.5,0H2.5M0,-0.75L0.72,0.5H-0.72Z", "M-2.5,0H2.5M0,-0.75L0.72,0.5H-0.72Z"]}, "legend": {"orient": "none", "legendX": 52, "legendY": 13.5, "title": null}},
      "stroke": {"field": "g", "type": "nominal", "scale": {"domain": ["asex", "sex"], "range": ["red", "red"]}, "legend": {"orient": "none", "legendX": 52, "legendY": 13.5, "title": null}},
      "fill": {"field": "g", "type": "nominal", "scale": {"domain": ["asex", "sex"], "range": ["red", "transparent"]}, "legend": {"orient": "none", "legendX": 52, "legendY": 13.5, "title": null}},
      "strokeDash": {"field": "g", "type": "nominal", "scale": {"domain": ["asex", "sex"], "range": [[1, 0], [3, 2]]}, "legend": {"orient": "none", "legendX": 52, "legendY": 13.5, "title": null}}
     }}
   ]},
  {"width": 275, "height": 195, "title": {"text": "C"},
   "layer": [
    {"data": {"name": "days"}, "mark": {"type": "rule", "color": "#b0b0b0", "strokeDash": [3, 3], "strokeWidth": 0.8}, "encoding": {"x": {"field": "x", "type": "quantitative", "scale": {"domain": [-3, 75.6], "nice": false, "zero": false}, "axis": null}}},
    {"data": {"name": "Ca"}, "mark": {"type": "point", "shape": "circle", "filled": true, "size": 6, "opacity": 1}, "encoding": {"x": {"field": "x", "type": "quantitative", "scale": {"domain": [-3, 75.6], "nice": false, "zero": false}, "axis": null}, "y": {"field": "y", "type": "quantitative", "scale": {"domain": [-0.47, 12.52], "nice": false, "zero": false}, "axis": null}, "color": {"condition": {"test": "datum.x < 4", "value": "black"}, "value": "red"}}},
    {"data": {"name": "Cs"}, "mark": {"type": "point", "shape": "circle", "filled": false, "size": 12, "strokeWidth": 0.6, "opacity": 1}, "encoding": {"x": {"field": "x", "type": "quantitative", "scale": {"domain": [-3, 75.6], "nice": false, "zero": false}, "axis": null}, "y": {"field": "y", "type": "quantitative", "scale": {"domain": [-0.47, 12.52], "nice": false, "zero": false}, "axis": null}, "color": {"condition": {"test": "datum.x < 4", "value": "black"}, "value": "red"}}},
    {"data": {"name": "Cm"}, "transform": [{"filter": "datum.g == 'asex'"}], "mark": {"type": "line", "color": "red", "strokeWidth": 0.8}, "encoding": {"x": {"field": "x", "type": "quantitative", "scale": {"domain": [-3, 75.6], "nice": false, "zero": false}, "axis": null}, "y": {"field": "y", "type": "quantitative", "scale": {"domain": [-0.47, 12.52], "nice": false, "zero": false}, "axis": null}}},
    {"data": {"name": "Cm"}, "transform": [{"filter": "datum.g == 'sex'"}], "mark": {"type": "line", "color": "red", "strokeWidth": 0.8, "strokeDash": [3, 3]}, "encoding": {"x": {"field": "x", "type": "quantitative", "scale": {"domain": [-3, 75.6], "nice": false, "zero": false}, "axis": null}, "y": {"field": "y", "type": "quantitative", "scale": {"domain": [-0.47, 12.52], "nice": false, "zero": false}, "axis": null}}},
    {"data": {"name": "Cm"}, "transform": [{"filter": "false"}], "mark": {"type": "point", "opacity": 1},
     "encoding": {
      "shape": {"field": "g", "type": "nominal", "scale": {"domain": ["asex", "sex"], "range": ["M-2.5,0H2.5M-0.6,0A0.6,0.6,0,1,0,0.6,0A0.6,0.6,0,1,0,-0.6,0Z", "M-2.5,0H2.5M-0.6,0A0.6,0.6,0,1,0,0.6,0A0.6,0.6,0,1,0,-0.6,0Z"]}, "legend": {"orient": "none", "legendX": 50, "legendY": 13.2, "title": null}},
      "stroke": {"field": "g", "type": "nominal", "scale": {"domain": ["asex", "sex"], "range": ["red", "red"]}, "legend": {"orient": "none", "legendX": 50, "legendY": 13.2, "title": null}},
      "fill": {"field": "g", "type": "nominal", "scale": {"domain": ["asex", "sex"], "range": ["red", "transparent"]}, "legend": {"orient": "none", "legendX": 50, "legendY": 13.2, "title": null}},
      "strokeDash": {"field": "g", "type": "nominal", "scale": {"domain": ["asex", "sex"], "range": [[1, 0], [3, 2]]}, "legend": {"orient": "none", "legendX": 50, "legendY": 13.2, "title": null}}
     }}
   ]},
  {"width": 275, "height": 195, "title": {"text": "B"},
   "layer": [
    {"data": {"name": "days"}, "mark": {"type": "rule", "color": "#b0b0b0", "strokeDash": [3, 3], "strokeWidth": 0.8}, "encoding": {"x": {"field": "x", "type": "quantitative", "scale": {"domain": [-3, 75.6], "nice": false, "zero": false}, "axis": null}}},
    {"data": {"name": "Ba"}, "mark": {"type": "point", "shape": "circle", "filled": true, "size": 6, "opacity": 1, "color": "black"}, "encoding": {"x": {"field": "x", "type": "quantitative", "scale": {"domain": [-3, 75.6], "nice": false, "zero": false}, "axis": null}, "y": {"field": "y", "type": "quantitative", "scale": {"domain": [-0.47, 12.52], "nice": false, "zero": false}, "axis": {"values": [0, 2, 4, 6, 8, 10, 12], "title": "Fitness (lifetime reproduction per female)"}}}},
    {"data": {"name": "Bs"}, "mark": {"type": "point", "shape": "circle", "filled": false, "size": 12, "strokeWidth": 0.6, "opacity": 1, "color": "black"}, "encoding": {"x": {"field": "x", "type": "quantitative", "scale": {"domain": [-3, 75.6], "nice": false, "zero": false}, "axis": null}, "y": {"field": "y", "type": "quantitative", "scale": {"domain": [-0.47, 12.52], "nice": false, "zero": false}, "axis": {"values": [0, 2, 4, 6, 8, 10, 12], "title": "Fitness (lifetime reproduction per female)"}}}},
    {"data": {"name": "Bm"}, "transform": [{"filter": "datum.g == 'asex'"}], "mark": {"type": "line", "color": "black", "strokeWidth": 0.8}, "encoding": {"x": {"field": "x", "type": "quantitative", "scale": {"domain": [-3, 75.6], "nice": false, "zero": false}, "axis": null}, "y": {"field": "y", "type": "quantitative", "scale": {"domain": [-0.47, 12.52], "nice": false, "zero": false}, "axis": {"values": [0, 2, 4, 6, 8, 10, 12], "title": "Fitness (lifetime reproduction per female)"}}}},
    {"data": {"name": "Bm"}, "transform": [{"filter": "datum.g == 'sex'"}], "mark": {"type": "line", "color": "black", "strokeWidth": 0.8, "strokeDash": [3, 3]}, "encoding": {"x": {"field": "x", "type": "quantitative", "scale": {"domain": [-3, 75.6], "nice": false, "zero": false}, "axis": null}, "y": {"field": "y", "type": "quantitative", "scale": {"domain": [-0.47, 12.52], "nice": false, "zero": false}, "axis": {"values": [0, 2, 4, 6, 8, 10, 12], "title": "Fitness (lifetime reproduction per female)"}}}},
    {"data": {"name": "Bm"}, "transform": [{"filter": "false"}], "mark": {"type": "point", "opacity": 1},
     "encoding": {
      "shape": {"field": "g", "type": "nominal", "scale": {"domain": ["asex", "sex"], "range": ["M-2.5,0H2.5M-0.6,0A0.6,0.6,0,1,0,0.6,0A0.6,0.6,0,1,0,-0.6,0Z", "M-2.5,0H2.5M-0.6,0A0.6,0.6,0,1,0,0.6,0A0.6,0.6,0,1,0,-0.6,0Z"]}, "legend": {"orient": "none", "legendX": 52, "legendY": 13.2, "title": null}},
      "stroke": {"field": "g", "type": "nominal", "scale": {"domain": ["asex", "sex"], "range": ["black", "black"]}, "legend": {"orient": "none", "legendX": 52, "legendY": 13.2, "title": null}},
      "fill": {"field": "g", "type": "nominal", "scale": {"domain": ["asex", "sex"], "range": ["black", "transparent"]}, "legend": {"orient": "none", "legendX": 52, "legendY": 13.2, "title": null}},
      "strokeDash": {"field": "g", "type": "nominal", "scale": {"domain": ["asex", "sex"], "range": [[1, 0], [3, 2]]}, "legend": {"orient": "none", "legendX": 52, "legendY": 13.2, "title": null}}
     }}
   ]},
  {"width": 275, "height": 195, "title": {"text": "D"},
   "layer": [
    {"data": {"name": "days"}, "mark": {"type": "rule", "color": "#b0b0b0", "strokeDash": [3, 3], "strokeWidth": 0.8}, "encoding": {"x": {"field": "x", "type": "quantitative", "scale": {"domain": [-3, 75.6], "nice": false, "zero": false}, "axis": null}}},
    {"data": {"name": "Da"}, "mark": {"type": "point", "shape": "triangle-up", "filled": true, "size": 8, "opacity": 1}, "encoding": {"x": {"field": "x", "type": "quantitative", "scale": {"domain": [-3, 75.6], "nice": false, "zero": false}, "axis": null}, "y": {"field": "y", "type": "quantitative", "scale": {"domain": [-0.47, 12.52], "nice": false, "zero": false}, "axis": null}, "color": {"condition": {"test": "datum.x < 4", "value": "red"}, "value": "black"}}},
    {"data": {"name": "Ds"}, "mark": {"type": "point", "shape": "triangle-up", "filled": false, "size": 14, "strokeWidth": 0.6, "opacity": 1}, "encoding": {"x": {"field": "x", "type": "quantitative", "scale": {"domain": [-3, 75.6], "nice": false, "zero": false}, "axis": null}, "y": {"field": "y", "type": "quantitative", "scale": {"domain": [-0.47, 12.52], "nice": false, "zero": false}, "axis": null}, "color": {"condition": {"test": "datum.x < 4", "value": "red"}, "value": "black"}}},
    {"data": {"name": "Dm"}, "transform": [{"filter": "datum.g == 'asex'"}], "mark": {"type": "line", "color": "black", "strokeWidth": 0.8}, "encoding": {"x": {"field": "x", "type": "quantitative", "scale": {"domain": [-3, 75.6], "nice": false, "zero": false}, "axis": null}, "y": {"field": "y", "type": "quantitative", "scale": {"domain": [-0.47, 12.52], "nice": false, "zero": false}, "axis": null}}},
    {"data": {"name": "Dm"}, "transform": [{"filter": "datum.g == 'sex'"}], "mark": {"type": "line", "color": "black", "strokeWidth": 0.8, "strokeDash": [3, 3]}, "encoding": {"x": {"field": "x", "type": "quantitative", "scale": {"domain": [-3, 75.6], "nice": false, "zero": false}, "axis": null}, "y": {"field": "y", "type": "quantitative", "scale": {"domain": [-0.47, 12.52], "nice": false, "zero": false}, "axis": null}}},
    {"data": {"name": "Dm"}, "transform": [{"filter": "false"}], "mark": {"type": "point", "opacity": 1},
     "encoding": {
      "shape": {"field": "g", "type": "nominal", "scale": {"domain": ["asex", "sex"], "range": ["M-2.5,0H2.5M0,-0.75L0.72,0.5H-0.72Z", "M-2.5,0H2.5M0,-0.75L0.72,0.5H-0.72Z"]}, "legend": {"orient": "none", "legendX": 50, "legendY": 13.2, "title": null}},
      "stroke": {"field": "g", "type": "nominal", "scale": {"domain": ["asex", "sex"], "range": ["black", "black"]}, "legend": {"orient": "none", "legendX": 50, "legendY": 13.2, "title": null}},
      "fill": {"field": "g", "type": "nominal", "scale": {"domain": ["asex", "sex"], "range": ["black", "transparent"]}, "legend": {"orient": "none", "legendX": 50, "legendY": 13.2, "title": null}},
      "strokeDash": {"field": "g", "type": "nominal", "scale": {"domain": ["asex", "sex"], "range": [[1, 0], [3, 2]]}, "legend": {"orient": "none", "legendX": 50, "legendY": 13.2, "title": null}}
     }}
   ]},
  {"width": 275, "height": 196, "title": {"text": "E"},
   "layer": [
    {"data": {"name": "days"}, "mark": {"type": "rule", "color": "#b0b0b0", "strokeDash": [3, 3], "strokeWidth": 0.8}, "encoding": {"x": {"field": "x", "type": "quantitative", "scale": {"domain": [-3, 75.6], "nice": false, "zero": false}, "axis": {"values": [0, 20, 40, 60], "title": null}}}},
    {"data": {"name": "one"}, "mark": {"type": "rule", "color": "#b0b0b0", "strokeDash": [1, 2], "strokeWidth": 0.8}, "encoding": {"y": {"field": "y", "type": "quantitative", "scale": {"domain": [-0.086, 2.2], "nice": false, "zero": false}, "axis": {"values": [0, 0.5, 1, 1.5, 2], "format": ".1f", "title": "Ratio sex/asex"}}}},
    {"data": {"name": "E"}, "transform": [{"filter": "isValid(datum.lo)"}], "mark": {"type": "rule", "strokeWidth": 0.8},
     "encoding": {"x": {"field": "x", "type": "quantitative", "scale": {"domain": [-3, 75.6], "nice": false, "zero": false}, "axis": {"values": [0, 20, 40, 60], "title": null}},
      "y": {"field": "lo", "type": "quantitative", "scale": {"domain": [-0.086, 2.2], "nice": false, "zero": false}, "axis": {"values": [0, 0.5, 1, 1.5, 2], "format": ".1f", "title": "Ratio sex/asex"}},
      "y2": {"field": "hi"},
      "color": {"condition": {"test": "datum.g == 'Adapting B to A'", "value": "red"}, "value": "black"}}},
    {"data": {"name": "E"}, "mark": {"type": "line", "strokeWidth": 0.8},
     "encoding": {"x": {"field": "x", "type": "quantitative", "scale": {"domain": [-3, 75.6], "nice": false, "zero": false}, "axis": {"values": [0, 20, 40, 60], "title": null}},
      "y": {"field": "y", "type": "quantitative", "scale": {"domain": [-0.086, 2.2], "nice": false, "zero": false}, "axis": {"values": [0, 0.5, 1, 1.5, 2], "format": ".1f", "title": "Ratio sex/asex"}},
      "detail": {"field": "g", "type": "nominal"},
      "color": {"condition": {"test": "datum.g == 'Control A' || datum.g == 'Adapting B to A'", "value": "red"}, "value": "black"},
      "strokeDash": {"condition": {"test": "indexof(datum.g, 'Adapting') == 0", "value": [3, 2]}, "value": [1, 0]}}},
    {"data": {"name": "E"}, "mark": {"type": "point", "opacity": 1, "strokeWidth": 0.8, "filled": false},
     "encoding": {"x": {"field": "x", "type": "quantitative", "scale": {"domain": [-3, 75.6], "nice": false, "zero": false}, "axis": {"values": [0, 20, 40, 60], "title": null}},
      "y": {"field": "y", "type": "quantitative", "scale": {"domain": [-0.086, 2.2], "nice": false, "zero": false}, "axis": {"values": [0, 0.5, 1, 1.5, 2], "format": ".1f", "title": "Ratio sex/asex"}},
      "shape": {"condition": {"test": "datum.g == 'Control A' || datum.g == 'Adapting A to B'", "value": "triangle-up"}, "value": "circle"},
      "stroke": {"condition": {"test": "datum.g == 'Control A' || datum.g == 'Adapting B to A'", "value": "red"}, "value": "black"},
      "fill": {"condition": [{"test": "datum.g == 'Control A'", "value": "red"}, {"test": "datum.g == 'Control B'", "value": "black"}], "value": "transparent"},
      "size": {"condition": {"test": "indexof(datum.g, 'Control') == 0", "value": 14}, "value": 22}}},
    {"data": {"name": "E"}, "transform": [{"filter": "false"}], "mark": {"type": "point", "opacity": 1},
     "encoding": {
      "shape": {"field": "g", "type": "nominal", "scale": {"domain": ["Control A", "Control B", "Adapting B to A", "Adapting A to B"], "range": ["M-2.5,0H2.5M0,-0.75L0.72,0.5H-0.72Z", "M-2.5,0H2.5M-0.6,0A0.6,0.6,0,1,0,0.6,0A0.6,0.6,0,1,0,-0.6,0Z", "M-2.5,0H2.5M-0.6,0A0.6,0.6,0,1,0,0.6,0A0.6,0.6,0,1,0,-0.6,0Z", "M-2.5,0H2.5M0,-0.75L0.72,0.5H-0.72Z"]}, "legend": {"orient": "none", "legendX": 44.5, "legendY": 12.5, "title": null}},
      "stroke": {"field": "g", "type": "nominal", "scale": {"domain": ["Control A", "Control B", "Adapting B to A", "Adapting A to B"], "range": ["red", "black", "red", "black"]}, "legend": {"orient": "none", "legendX": 44.5, "legendY": 12.5, "title": null}},
      "fill": {"field": "g", "type": "nominal", "scale": {"domain": ["Control A", "Control B", "Adapting B to A", "Adapting A to B"], "range": ["red", "black", "transparent", "transparent"]}, "legend": {"orient": "none", "legendX": 44.5, "legendY": 12.5, "title": null}},
      "strokeDash": {"field": "g", "type": "nominal", "scale": {"domain": ["Control A", "Control B", "Adapting B to A", "Adapting A to B"], "range": [[1, 0], [1, 0], [3, 2], [3, 2]]}, "legend": {"orient": "none", "legendX": 44.5, "legendY": 12.5, "title": null}}
     }}
   ]}
]
}
